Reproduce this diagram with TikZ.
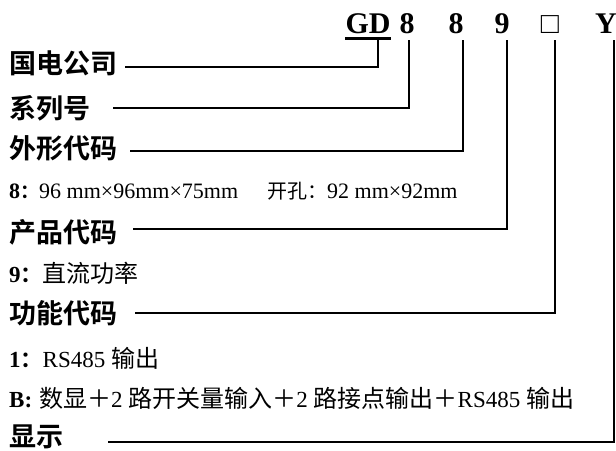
\documentclass[tikz,border=0pt]{standalone}
\usepackage{fontspec}
\setmainfont{Liberation Serif}
\newfontfamily\hei{Noto Sans CJK SC Bold}
\newfontfamily\song{Noto Sans CJK SC}
\newcommand\zh[1]{{\fontsize{24}{24}\song #1}}
\usetikzlibrary{positioning}

\begin{document}
\begin{tikzpicture}[x=1pt,y=-1pt,
    code/.style={anchor=base,inner sep=0pt,font=\bfseries\fontsize{30}{30}\selectfont},
    title/.style={anchor=west,inner sep=0pt,font=\hei\fontsize{27}{27}\selectfont},
    note/.style={anchor=west,inner sep=0pt,font=\fontsize{23}{23}\selectfont},
    link/.style={line width=1.7pt}]
  \useasboundingbox (0,0) rectangle (616,450);

  % model number
  \node[code] (gd) at (368,33) {GD};
  \node[code] (c1) at (407,33) {8};
  \node[code] (c2) at (456,33) {8};
  \node[code] (c3) at (502,33) {9};
  \node[code] (c4) at (550,33) {\mdseries □};
  \node[code] (c5) at (606,33) {Y};
  \draw[line width=3pt] ([yshift=-5pt]gd.base west) -- ([yshift=-5pt]gd.base east);

  % titles
  \node[title] (lgs) at (9,63)  {国电公司};
  \node[title] (lxl) at (9,108) {系列号};
  \node[title] (lwx) at (9,148) {外形代码};
  \node[title] (lcp) at (9,232) {产品代码};
  \node[title] (lgn) at (9,313) {功能代码};
  \node[title] (lxs) at (9,437) {显示};

  % notes
  \node[note,font=\fontsize{22}{22}\selectfont] (n8) at (9,191) {\makebox[258pt][l]{\textbf{8}{\hei\fontsize{19}{19}\selectfont ：}96 mm×96mm×75mm}{\fontsize{20}{20}\song 开孔：}92 mm×92mm};
  \node[note] (n9) at (9,273) {\textbf{9}{\hei\fontsize{22}{22}\selectfont ：}\zh{直流功率}};
  \node[note] (n1) at (9,358) {\textbf{1}{\hei\fontsize{22}{22}\selectfont ：}RS485 \zh{输出}};
  \node[note] (nb) at (9,398) {\textbf{B:}\hspace{7pt}\zh{数显＋}2 \zh{路开关量输入＋}2 \zh{路接点输出＋}RS485 \zh{输出}};

  % connectors
  \coordinate (s0) at (125,67);
  \coordinate (s1) at (113,108);
  \coordinate (s2) at (130,151);
  \coordinate (s3) at (133,229);
  \coordinate (s4) at (135,313);
  \coordinate (s5) at (108,442);
  \draw[link] (s0) -| ([xshift=10pt,yshift=-7pt]gd.base);
  \draw[link] (s1) -| ([xshift=2pt,yshift=-7pt]c1.base);
  \draw[link] (s2) -| ([xshift=7pt,yshift=-7pt]c2.base);
  \draw[link] (s3) -| ([xshift=5pt,yshift=-7pt]c3.base);
  \draw[link] (s4) -| ([xshift=5pt,yshift=-7pt]c4.base);
  \draw[link] (s5) -| ([xshift=8pt,yshift=-7pt]c5.base);
\end{tikzpicture}
\end{document}
